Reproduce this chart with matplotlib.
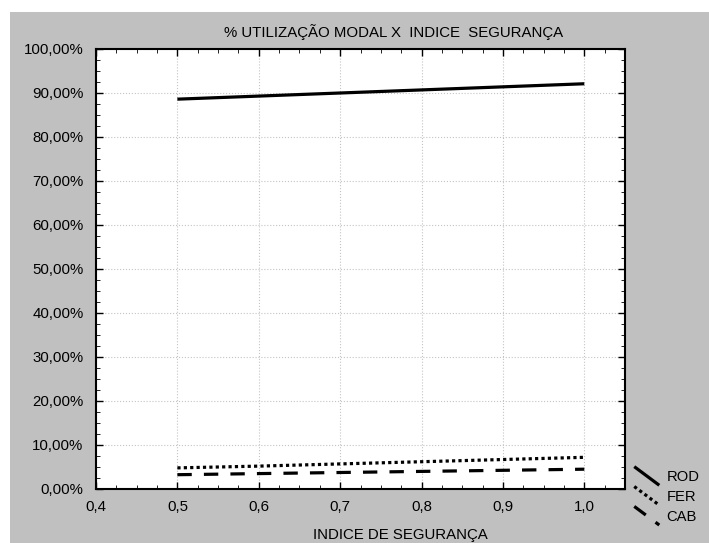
import matplotlib
matplotlib.use("Agg")
import matplotlib.pyplot as plt
from matplotlib.lines import Line2D
from matplotlib.legend_handler import HandlerLine2D
from matplotlib.patches import Rectangle
from matplotlib.ticker import FuncFormatter, MultipleLocator

plt.rcParams['font.family'] = ['Liberation Sans', 'DejaVu Sans']

# data
indice = [0.5, 0.6, 0.7, 0.8, 0.9, 1.0]
rod = [88.6, 89.3, 90.0, 90.7, 91.4, 92.1]
fer = [4.8, 5.2, 5.7, 6.2, 6.7, 7.2]
cab = [3.25, 3.5, 3.75, 4.0, 4.25, 4.5]
series_names = ["ROD", "FER", "CAB"]

title = "% UTILIZAÇÃO MODAL X  INDICE  SEGURANÇA"
xlab = "INDICE DE SEGURANÇA"
fs = 10.8


class DiagHandler(HandlerLine2D):
    # legend key drawn as a falling diagonal
    def create_artists(self, legend, orig, xdescent, ydescent, width, height, fontsize, trans):
        ln = Line2D([-xdescent, -xdescent + width], [height + 3, -3])
        self.update_prop(ln, orig, legend)
        ln.set_transform(trans)
        return [ln]


fig = plt.figure(figsize=(7.09, 5.43), dpi=100, facecolor="white")
fig.patches.append(Rectangle((10 / 709, 0), 1, (543 - 12) / 543,
                             transform=fig.transFigure, facecolor="#c0c0c0",
                             edgecolor="none", zorder=-10))

ax = fig.add_axes([96 / 709, 1 - 489 / 543, (625 - 96) / 709, (489 - 49) / 543])
ax.set_facecolor("white")

l1, = ax.plot(indice, rod, color="black", lw=2.3, solid_capstyle="butt")
l2, = ax.plot(indice, fer, color="black", lw=2.3, linestyle=(0, (1, 1)))
l3, = ax.plot(indice, cab, color="black", lw=2.3, linestyle=(0, (4.5, 3.8)))

ax.set_xlim(0.4, 1.05)
ax.set_ylim(0, 100)
ax.xaxis.set_major_locator(MultipleLocator(0.1))
ax.xaxis.set_minor_locator(MultipleLocator(0.025))
ax.yaxis.set_major_locator(MultipleLocator(10))
ax.yaxis.set_minor_locator(MultipleLocator(2.5))
ax.xaxis.set_major_formatter(FuncFormatter(lambda v, p: ("%.1f" % v).replace(".", ",") if v <= 1.001 else ""))
ax.yaxis.set_major_formatter(FuncFormatter(lambda v, p: ("%.2f%%" % v).replace(".", ",")))
ax.tick_params(which="both", direction="in", top=True, right=True, labelsize=fs, colors="black")
ax.tick_params(which="major", length=5, width=1)
ax.tick_params(which="minor", length=3, width=0.6)
ax.tick_params(axis="x", pad=8)
ax.tick_params(axis="y", pad=9)
ax.grid(True, which="major", color="#c4c4c4", linestyle=":", linewidth=0.8)
for s in ax.spines.values():
    s.set_linewidth(1.5)

fig.text(394 / 709, 1 - 32 / 543, title, ha="center", va="center", fontsize=fs)
fig.text(400 / 709, 1 - 535 / 543, xlab, ha="center", va="center", fontsize=fs)

leg = fig.legend([l1, l2, l3], series_names, loc="center left",
                 bbox_to_anchor=(621 / 709, 1 - 497 / 543), frameon=False,
                 handlelength=1.7, handletextpad=0.5, labelspacing=0.4, fontsize=10.6,
                 handler_map={Line2D: DiagHandler()})

fig.savefig("out.png", dpi=100, facecolor=fig.get_facecolor())
